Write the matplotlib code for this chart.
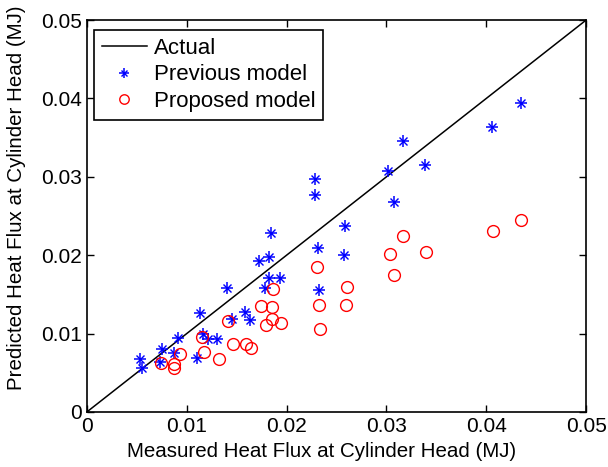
import numpy as np
import matplotlib
matplotlib.use('Agg')
import matplotlib.pyplot as plt

plt.rcParams['font.family'] = ['Liberation Sans', 'DejaVu Sans']

# previous model (blue asterisks): measured, predicted
prev_meas = [0.00535, 0.00551, 0.00748, 0.00727, 0.00873, 0.00917, 0.01103, 0.01137,
             0.0116, 0.01211, 0.01306, 0.01404, 0.01448, 0.01583, 0.01634, 0.01725,
             0.0178, 0.0182, 0.01827, 0.01844, 0.01932, 0.02284, 0.02284, 0.02317,
             0.02327, 0.02588, 0.02571, 0.03018, 0.03078, 0.03163, 0.03383, 0.0406, 0.04347]
prev_pred = [0.0067, 0.00555, 0.00806, 0.00636, 0.00755, 0.00947, 0.00683, 0.01259,
             0.0099, 0.00934, 0.00934, 0.01587, 0.0119, 0.0128, 0.01169, 0.0192,
             0.01587, 0.0198, 0.01715, 0.02282, 0.01706, 0.02974, 0.02769, 0.02086,
             0.01553, 0.02376, 0.02005, 0.0308, 0.02683, 0.03456, 0.03153, 0.03635, 0.03946]

# proposed model (red circles)
prop_meas = [0.00744, 0.00873, 0.00873, 0.0093, 0.0115, 0.0117, 0.01319, 0.01414,
             0.01458, 0.01597, 0.01644, 0.01742, 0.01793, 0.0185, 0.01854, 0.01864,
             0.01945, 0.02304, 0.02324, 0.02338, 0.02591, 0.02601, 0.03031, 0.03075,
             0.03166, 0.034, 0.0407, 0.04347]
prop_pred = [0.00627, 0.00614, 0.00555, 0.00734, 0.00956, 0.00764, 0.00678, 0.0116,
             0.0087, 0.0087, 0.00819, 0.01352, 0.01105, 0.0134, 0.01182, 0.01574,
             0.0113, 0.01852, 0.01365, 0.01054, 0.01365, 0.016, 0.02014, 0.01745,
             0.02248, 0.02044, 0.02304, 0.02453]

ticks = [0, 0.01, 0.02, 0.03, 0.04, 0.05]
tick_labels = ['0', '0.01', '0.02', '0.03', '0.04', '0.05']

fig = plt.figure(figsize=(6.08, 4.67), dpi=100)
ax = fig.add_axes([0.143, 0.118, 0.821, 0.839])

l_act, = ax.plot([0, 0.05], [0, 0.05], 'k', lw=1.1)
# matlab-like asterisk: a plus with a smaller cross on top
l_p1, = ax.plot(prev_meas, prev_pred, ls='none', marker='+', ms=9, mew=1.1, color='b')
l_p2, = ax.plot(prev_meas, prev_pred, ls='none', marker='x', ms=5.5, mew=1.0, color='b')
l_prop, = ax.plot(prop_meas, prop_pred, ls='none', marker='o', ms=8.5, mew=1.0,
                  mfc='none', mec='r')

ax.set_xlim(0, 0.05)
ax.set_ylim(0, 0.05)
ax.set_xticks(ticks)
ax.set_yticks(ticks)
ax.set_xticklabels(tick_labels)
ax.set_yticklabels(tick_labels)
ax.tick_params(direction='in', top=True, right=True, labelsize=15, length=5, width=1)
for s in ax.spines.values():
    s.set_linewidth(1.2)

ax.set_xlabel('Measured Heat Flux at Cylinder Head (MJ)', fontsize=14.8)
ax.set_ylabel('Predicted Heat Flux at Cylinder Head (MJ)', fontsize=14.8)
ax.xaxis.set_label_coords(0.47, -0.078)
ax.yaxis.set_label_coords(-0.122, 0.546)

leg = ax.legend([l_act, (l_p1, l_p2), l_prop],
                ['Actual', 'Previous model', 'Proposed model'],
                loc='upper left', bbox_to_anchor=(0.014, 0.9745), borderaxespad=0,
                fontsize=16, fancybox=False, framealpha=1, edgecolor='k',
                handlelength=2.05, handletextpad=0.3, markerscale=0.8,
                labelspacing=0.25, borderpad=0.35)
leg.get_frame().set_linewidth(1.2)

plt.savefig('out.png', dpi=100)
